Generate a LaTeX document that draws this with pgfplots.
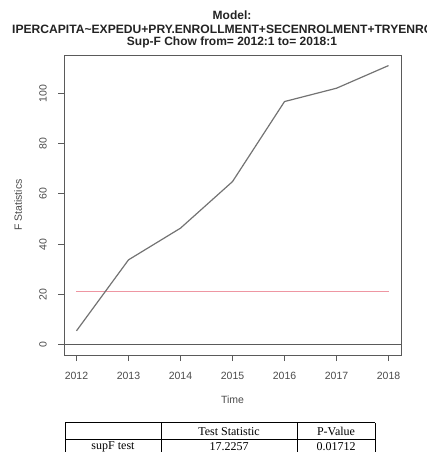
\documentclass[border=0pt]{standalone}
\usepackage{pgfplots}
\pgfplotsset{compat=1.18}
\usepackage{fontspec}
\setmainfont{Liberation Sans}
\newfontfamily\seriffont{Liberation Serif}
\definecolor{axgray}{RGB}{90,90,90}
\definecolor{linegray}{RGB}{115,115,115}
\definecolor{redline}{RGB}{238,150,162}
\definecolor{txtgray}{RGB}{75,75,75}
\definecolor{titlecol}{RGB}{35,35,35}
\begin{document}
\begin{tikzpicture}[x=1pt,y=1pt]
\path[use as bounding box] (0,0) rectangle (427,452);
\clip (0,0) rectangle (427,452);
% titles
\node[font=\fontsize{12}{14}\selectfont\bfseries, text=titlecol, inner sep=0] at (232,436.5) {Model:};
\node[font=\fontsize{12.1}{14}\selectfont\bfseries, text=titlecol, inner sep=0, anchor=west] at (12,422.5) {IPERCAPITA\textasciitilde EXPEDU+PRY.ENROLLMENT+SECENROLMENT+TRYENRO\rlap{LMENT}};
\node[font=\fontsize{12}{14}\selectfont\bfseries, text=titlecol, inner sep=0] at (232,410) {Sup-F Chow from= 2012:1 to= 2018:1};
\begin{axis}[
  at={(64pt,97pt)}, anchor=south west,
  width=337pt, height=300pt, scale only axis,
  xmin=2011.76, xmax=2018.24, ymin=-4, ymax=115.2,
  xtick={2012,2013,2014,2015,2016,2017,2018},
  ytick={0,20,40,60,80,100},
  yticklabels={},
  /pgf/number format/1000 sep={},
  /pgf/number format/assume math mode=true,
  tick align=outside, major tick length=6pt,
  xtick pos=bottom, ytick pos=left,
  axis line style={axgray, line width=0.9pt},
  tick style={axgray, line width=0.9pt},
  ticklabel style={font=\fontsize{10.5}{12}\selectfont, text=txtgray},
  xticklabel shift=8pt,
  xlabel={Time}, ylabel={F Statistics},
  label style={font=\fontsize{10.5}{12}\selectfont, text=txtgray},
  xlabel style={at={(axis description cs:0.5,-0.15)}, anchor=center},
  ylabel style={at={(axis description cs:-0.136,0.5)}, anchor=center, rotate=0},
  clip=false,
]
\addplot[draw=axgray, line width=0.9pt] coordinates {(2011.76,0) (2018.24,0)};
\addplot[draw=redline, line width=1.4pt] coordinates {(2012,21.2) (2018,21.2)};
\addplot[draw=linegray, line width=1.2pt] coordinates {
(2012,5.6) (2013,33.8) (2014,46.4) (2015,64.9) (2016,96.7) (2017,102.0) (2018,111.0)};
\pgfplotsinvokeforeach{0,20,40,60,80,100}{
  \node[rotate=90, inner sep=0, font=\fontsize{10.5}{12}\selectfont, text=txtgray]
    at ([xshift=-21pt]axis cs:2011.76,#1) {#1};
}
\end{axis}
% table
\begin{scope}[line width=0.9pt]
\draw (65,29.3) -- (375,29.3);
\draw (65,12.7) -- (375,12.7);
\draw (65,29.3) -- (65,-5);
\draw (161,29.3) -- (161,-5);
\draw (297,29.3) -- (297,-5);
\draw (375,29.3) -- (375,-5);
\end{scope}
\node[font=\seriffont\fontsize{12}{14}\selectfont, inner sep=0] at (229,20.3) {Test Statistic};
\node[font=\seriffont\fontsize{12}{14}\selectfont, inner sep=0] at (336,20.3) {P-Value};
\node[font=\seriffont\fontsize{12}{14}\selectfont, inner sep=0] at (113,5) {supF test};
\node[font=\seriffont\fontsize{12}{14}\selectfont, inner sep=0] at (229,5) {17.2257};
\node[font=\seriffont\fontsize{12}{14}\selectfont, inner sep=0] at (336,5) {0.01712};
\end{tikzpicture}
\end{document}
